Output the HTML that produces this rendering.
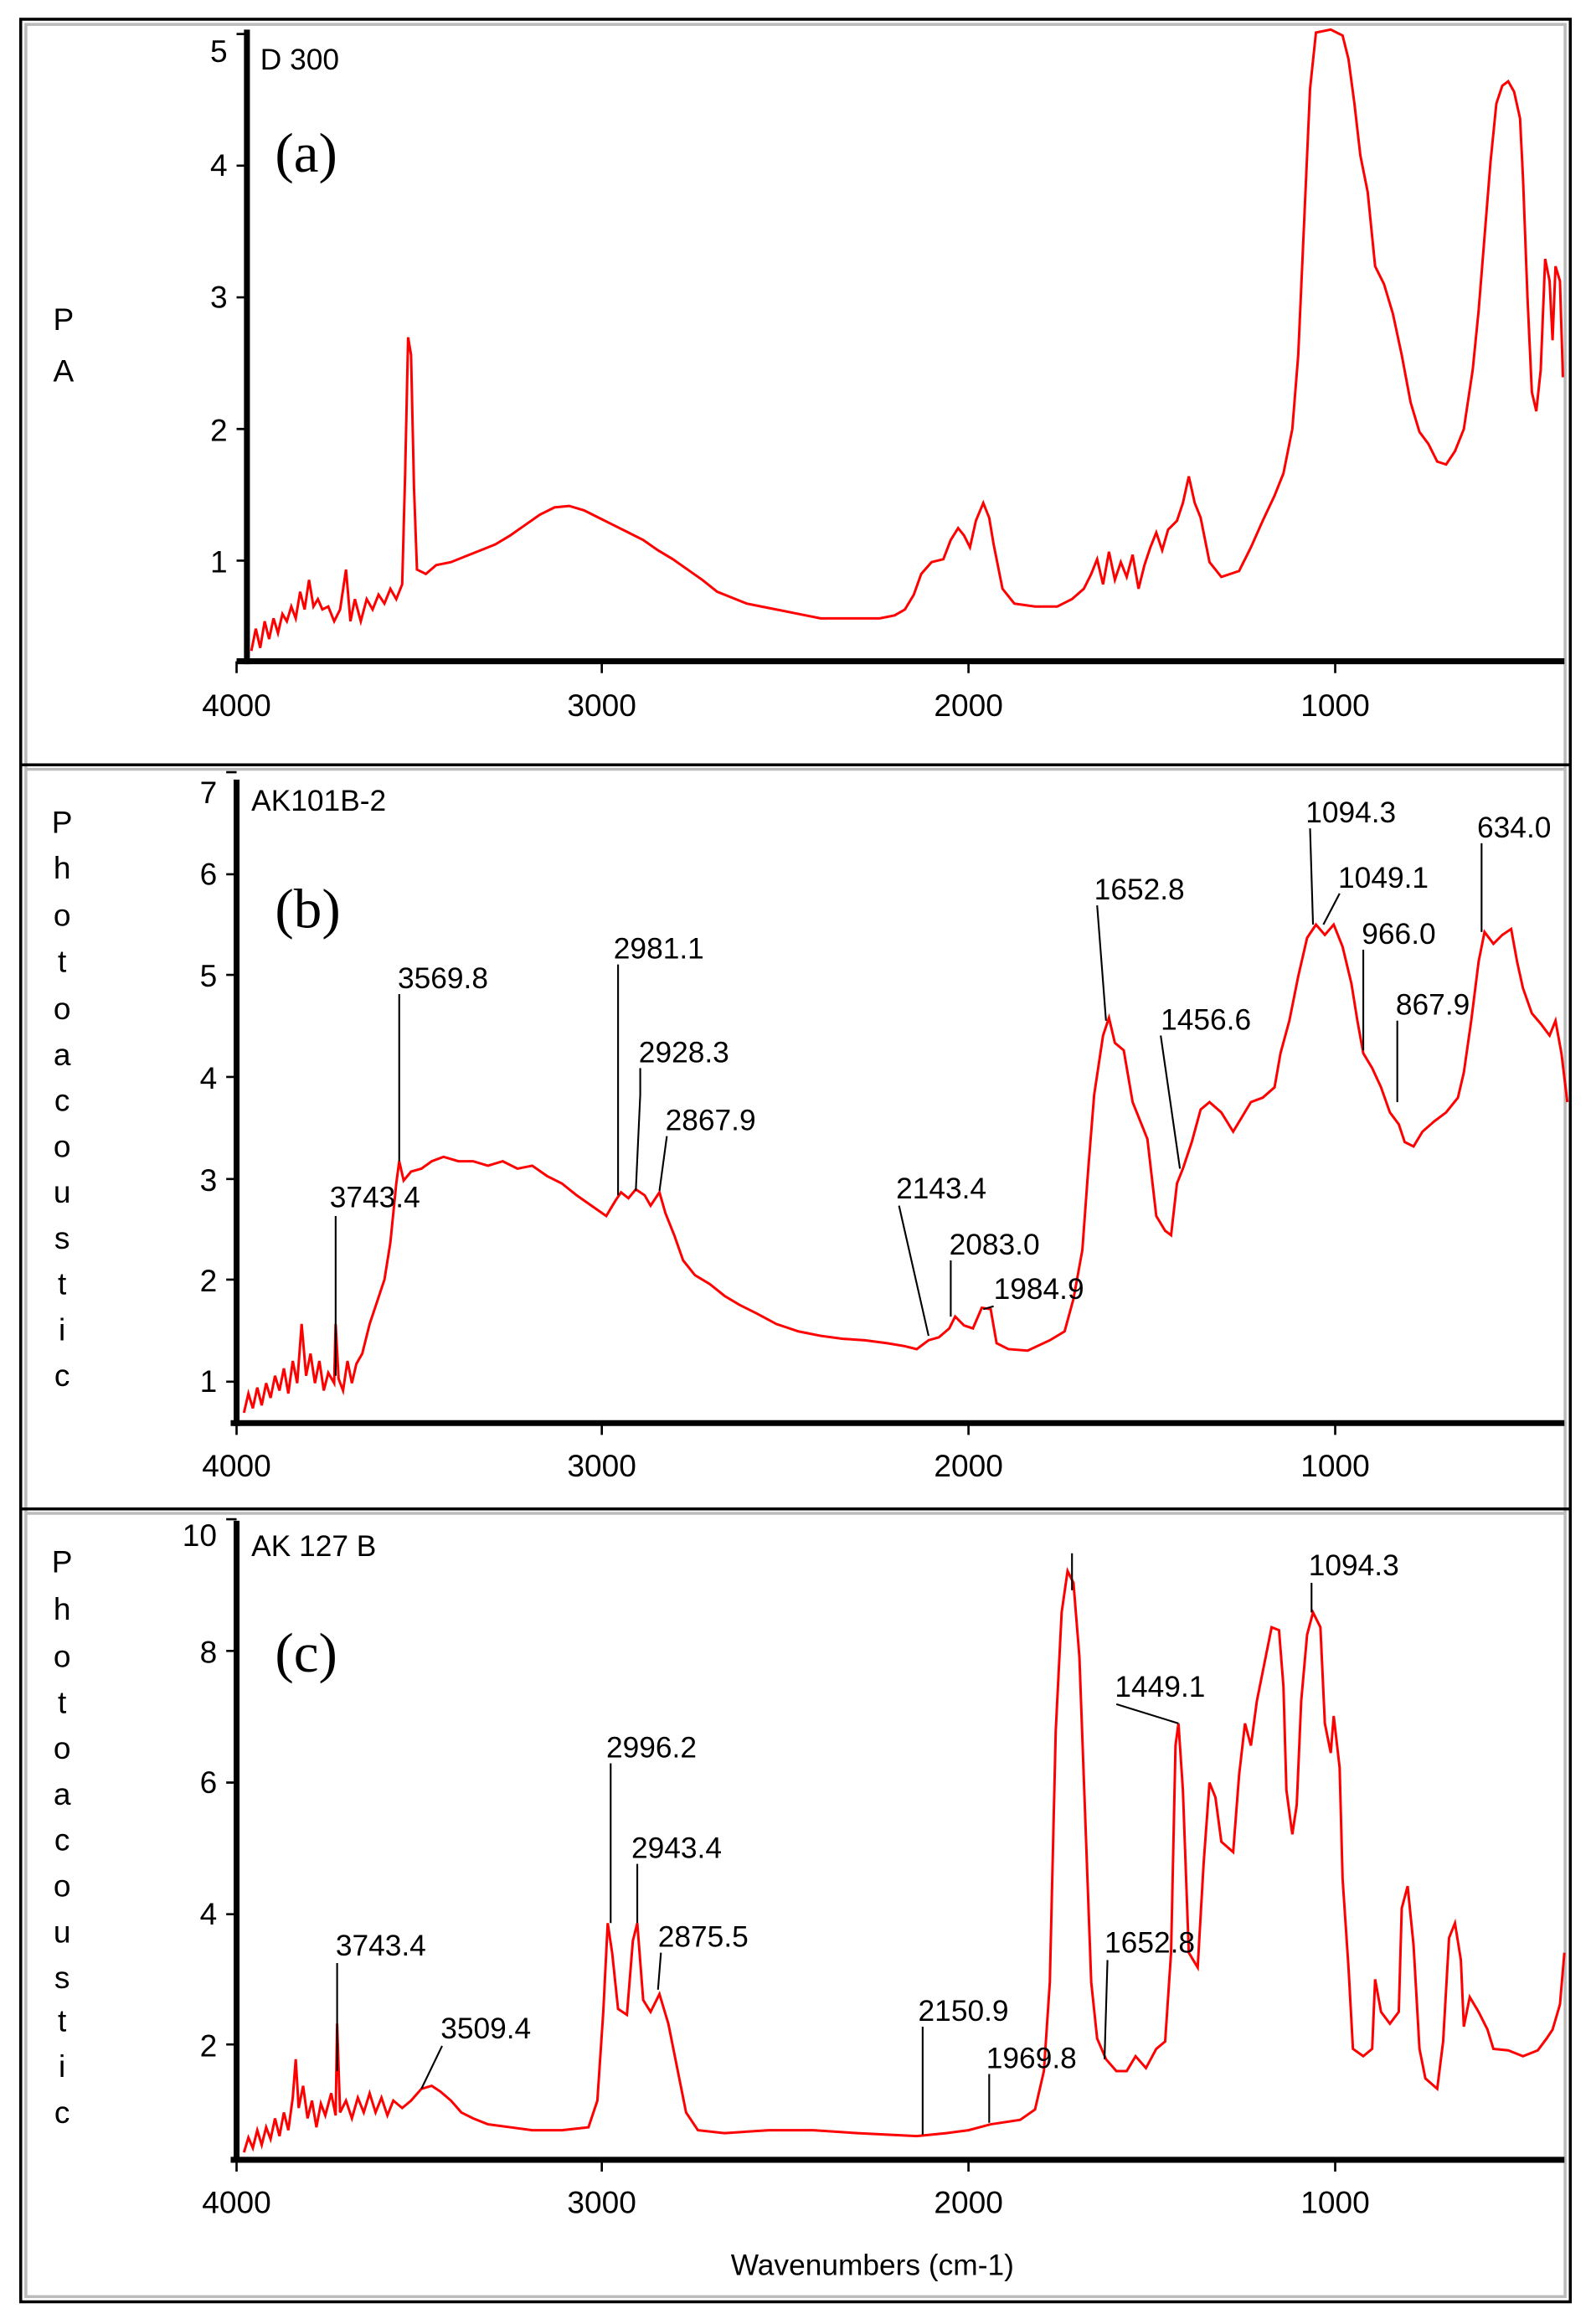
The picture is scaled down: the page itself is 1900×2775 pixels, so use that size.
<!DOCTYPE html>
<html><head><meta charset="utf-8"><style>html,body{margin:0;padding:0;background:#fff}svg{display:block}</style></head>
<body>
<svg width="1900" height="2775" viewBox="0 0 1076 1571" preserveAspectRatio="none" xmlns="http://www.w3.org/2000/svg" font-family="Liberation Sans, sans-serif">
<rect x="0" y="0" width="1076" height="1571" fill="#fff"/>
<!-- frames -->
<rect x="14" y="13" width="1048" height="1543" fill="none" stroke="#000" stroke-width="2"/>
<rect x="17.5" y="16.5" width="1041" height="1536" fill="none" stroke="#bbb" stroke-width="2"/>
<line x1="14" y1="517" x2="1062" y2="517" stroke="#000" stroke-width="2"/>
<line x1="17" y1="520" x2="1059" y2="520" stroke="#bbb" stroke-width="2"/>
<line x1="14" y1="1020" x2="1062" y2="1020" stroke="#000" stroke-width="2"/>
<line x1="17" y1="1023" x2="1059" y2="1023" stroke="#bbb" stroke-width="2"/>

<g stroke="#000" fill="none">
<!-- panel a axes -->
<line x1="167" y1="20" x2="167" y2="449" stroke-width="4"/>
<line x1="160" y1="447" x2="1058" y2="447" stroke-width="4"/>
<path d="M160 23H167M160 112H167M160 201H167M160 290H167M160 379H167M160 447V455M407 447V455M655 447V455M903 447V455" stroke-width="1.5"/>
<!-- panel b axes -->
<line x1="160" y1="527" x2="160" y2="964" stroke-width="4"/>
<line x1="156" y1="962" x2="1058" y2="962" stroke-width="4"/>
<path d="M153 522H160M153 591H160M153 659H160M153 728H160M153 797H160M153 865H160M153 934H160M160 962V970M407 962V970M655 962V970M903 962V970" stroke-width="1.5"/>
<!-- panel c axes -->
<line x1="160" y1="1028" x2="160" y2="1462" stroke-width="4"/>
<line x1="156" y1="1460" x2="1058" y2="1460" stroke-width="4"/>
<path d="M153 1027H160M153 1116H160M153 1205H160M153 1294H160M153 1382H160M160 1460V1468M407 1460V1468M655 1460V1468M903 1460V1468" stroke-width="1.5"/>
</g>

<g font-size="21" fill="#000" text-anchor="middle">
<text x="148" y="42">5</text><text x="148" y="119">4</text><text x="148" y="208">3</text><text x="148" y="298">2</text><text x="148" y="387">1</text>
<text x="160" y="484">4000</text><text x="407" y="484">3000</text><text x="655" y="484">2000</text><text x="903" y="484">1000</text>
<text x="141" y="543">7</text><text x="141" y="598">6</text><text x="141" y="667">5</text><text x="141" y="736">4</text><text x="141" y="805">3</text><text x="141" y="873">2</text><text x="141" y="941">1</text>
<text x="160" y="998">4000</text><text x="407" y="998">3000</text><text x="655" y="998">2000</text><text x="903" y="998">1000</text>
<text x="135" y="1045">10</text><text x="141" y="1124">8</text><text x="141" y="1212">6</text><text x="141" y="1301">4</text><text x="141" y="1390">2</text>
<text x="160" y="1496">4000</text><text x="407" y="1496">3000</text><text x="655" y="1496">2000</text><text x="903" y="1496">1000</text>
<text x="590" y="1538" font-size="20">Wavenumbers (cm-1)</text>
<text x="43" y="223">P</text><text x="43" y="258">A</text>
<text x="42" y="563">P</text><text x="42" y="594">h</text><text x="42" y="626">o</text><text x="42" y="657">t</text><text x="42" y="689">o</text><text x="42" y="720">a</text><text x="42" y="751">c</text><text x="42" y="782">o</text><text x="42" y="813">u</text><text x="42" y="844">s</text><text x="42" y="875">t</text><text x="42" y="906">i</text><text x="42" y="937">c</text>
<text x="42" y="1063">P</text><text x="42" y="1095">h</text><text x="42" y="1127">o</text><text x="42" y="1158">t</text><text x="42" y="1189">o</text><text x="42" y="1220">a</text><text x="42" y="1251">c</text><text x="42" y="1282">o</text><text x="42" y="1313">u</text><text x="42" y="1344">s</text><text x="42" y="1373">t</text><text x="42" y="1404">i</text><text x="42" y="1435">c</text>
</g>
<g font-size="20" fill="#000">
<text x="176" y="47">D 300</text><text x="170" y="548">AK101B-2</text><text x="170" y="1052">AK 127 B</text>
</g>
<g font-family="Liberation Serif, serif" font-size="38" fill="#000">
<text x="186" y="116">(a)</text><text x="186" y="627">(b)</text><text x="186" y="1130">(c)</text>
</g>

<!-- curves -->
<g fill="none" stroke="#f00" stroke-width="1.7" stroke-linejoin="miter">
<polyline points="170,440 173,425 176,438 179,420 182,432 185,418 188,428 191,415 194,420 197,410 200,418 203,400 206,412 209,392 212,410 215,405 218,412 222,410 226,420 230,412 234,385 237,420 240,405 244,420 248,405 252,412 256,402 260,408 264,398 268,405 272,395 274,320 276,228 278,240 280,330 282,385 288,388 295,382 305,380 315,376 325,372 335,368 345,362 355,355 365,348 375,343 385,342 395,345 405,350 415,355 425,360 435,365 445,372 455,378 465,385 475,392 485,400 495,404 505,408 515,410 525,412 540,415 555,418 575,418 595,418 605,416 612,412 618,402 623,388 630,380 638,378 643,365 648,357 652,362 656,370 660,352 665,340 669,350 672,368 678,398 686,408 700,410 715,410 725,405 733,398 738,388 742,378 746,395 750,373 754,392 758,380 762,390 766,375 770,398 774,382 778,370 782,360 786,372 790,358 796,352 800,340 804,322 808,340 812,350 818,380 826,390 838,386 846,370 854,352 862,335 868,320 874,290 878,240 882,150 886,60 890,22 900,20 908,24 912,40 916,70 920,105 925,130 930,180 936,192 942,212 948,240 954,272 960,292 966,300 972,312 978,314 984,305 990,290 996,250 1000,210 1004,160 1008,110 1012,70 1016,58 1020,55 1024,62 1028,80 1030,120 1033,200 1036,265 1039,278 1042,250 1045,175 1048,190 1050,230 1052,180 1055,190 1057,255"/>
<polyline points="165,955 168,942 171,952 174,938 177,950 180,935 183,945 186,930 189,940 192,925 195,942 198,920 201,935 204,895 207,930 210,915 213,935 216,920 219,940 222,928 226,935 227,895 229,932 232,940 235,920 238,935 241,922 245,915 250,895 255,880 260,865 264,840 268,800 270,785 273,798 278,792 285,790 292,785 300,782 310,785 320,785 330,788 340,785 350,790 360,788 370,795 380,800 390,808 400,815 410,822 416,812 420,806 425,810 430,804 436,808 440,815 446,806 450,820 456,835 462,852 470,862 480,868 490,876 500,882 512,888 525,895 540,900 555,903 570,905 585,906 600,908 612,910 620,912 628,906 635,904 642,898 646,890 652,896 658,898 664,884 670,885 674,908 682,912 695,913 710,906 720,900 726,878 732,845 736,790 740,740 746,700 750,688 754,705 760,710 766,745 772,760 776,770 782,822 788,832 792,835 796,800 800,790 806,772 812,750 818,745 826,752 834,765 840,755 846,745 854,742 862,735 866,712 872,690 878,660 884,634 890,625 896,632 902,625 908,640 914,665 918,690 922,712 928,722 934,735 940,752 946,760 950,772 956,775 962,765 970,758 978,752 986,742 990,725 995,690 1000,650 1004,630 1010,638 1016,632 1022,628 1026,650 1030,668 1036,685 1042,692 1048,700 1052,690 1056,712 1060,745"/>
<polyline points="165,1455 168,1445 171,1452 174,1440 177,1450 180,1438 183,1446 186,1432 189,1444 192,1428 195,1440 198,1418 200,1392 202,1425 205,1410 208,1432 211,1420 214,1438 217,1422 220,1430 224,1415 227,1430 228,1368 230,1428 234,1420 238,1432 242,1418 246,1428 250,1415 254,1428 258,1418 262,1430 266,1420 272,1425 278,1420 285,1412 292,1410 298,1414 305,1420 312,1428 320,1432 330,1436 345,1438 360,1440 380,1440 398,1438 404,1420 408,1360 411,1300 414,1320 418,1358 424,1362 428,1312 431,1300 435,1352 440,1360 446,1348 452,1368 458,1398 464,1428 472,1440 490,1442 520,1440 550,1440 580,1442 600,1443 620,1444 640,1442 655,1440 670,1436 690,1433 700,1426 706,1400 710,1340 714,1170 718,1090 722,1062 726,1070 730,1120 734,1230 738,1340 742,1378 748,1392 755,1400 762,1400 768,1390 775,1398 782,1385 788,1380 792,1320 795,1180 797,1165 800,1210 804,1320 810,1330 814,1260 818,1205 822,1215 826,1245 834,1252 838,1200 842,1165 846,1180 850,1150 854,1130 860,1100 865,1102 868,1140 870,1210 874,1240 877,1220 880,1150 884,1105 888,1090 893,1100 896,1165 900,1185 902,1160 906,1195 908,1270 912,1330 915,1385 922,1390 928,1385 930,1338 934,1360 940,1368 946,1360 948,1290 952,1275 956,1315 960,1385 964,1405 972,1412 976,1380 980,1310 984,1300 988,1325 990,1370 994,1350 1000,1360 1006,1372 1010,1385 1020,1386 1030,1390 1040,1386 1046,1378 1050,1372 1055,1355 1058,1320"/>
</g>

<!-- annotations -->
<g stroke="#000" stroke-width="1.2" fill="none">
<path d="M227 822V930M270 672V785M418 652V808M433 722V740L430 805M451 768L446 805M608 815L628 903M643 852V890M672 883L665 885M742 612L748 690M785 700L798 790M886 560L888 625M906 604L895 625M922 642V710M945 690V745M1002 570V630"/>
<path d="M228 1327V1400M299 1383L285 1412M413 1192V1300M431 1260V1300M447 1320L445 1345M624 1370V1443M669 1402V1435M749 1325L747 1392M755 1152L797 1165M887 1070V1090M725 1050V1075"/>
</g>
<g font-size="20" fill="#000">
<text x="223" y="816">3743.4</text><text x="269" y="668">3569.8</text><text x="415" y="648">2981.1</text><text x="432" y="718">2928.3</text><text x="450" y="764">2867.9</text><text x="606" y="810">2143.4</text><text x="642" y="848">2083.0</text><text x="672" y="878">1984.9</text><text x="740" y="608">1652.8</text><text x="785" y="696">1456.6</text><text x="883" y="556">1094.3</text><text x="905" y="600">1049.1</text><text x="921" y="638">966.0</text><text x="944" y="686">867.9</text><text x="999" y="566">634.0</text>
<text x="227" y="1322">3743.4</text><text x="298" y="1378">3509.4</text><text x="410" y="1188">2996.2</text><text x="427" y="1256">2943.4</text><text x="445" y="1316">2875.5</text><text x="621" y="1366">2150.9</text><text x="667" y="1398">1969.8</text><text x="747" y="1320">1652.8</text><text x="754" y="1147">1449.1</text><text x="885" y="1065">1094.3</text>
</g>
</svg>
</body></html>
